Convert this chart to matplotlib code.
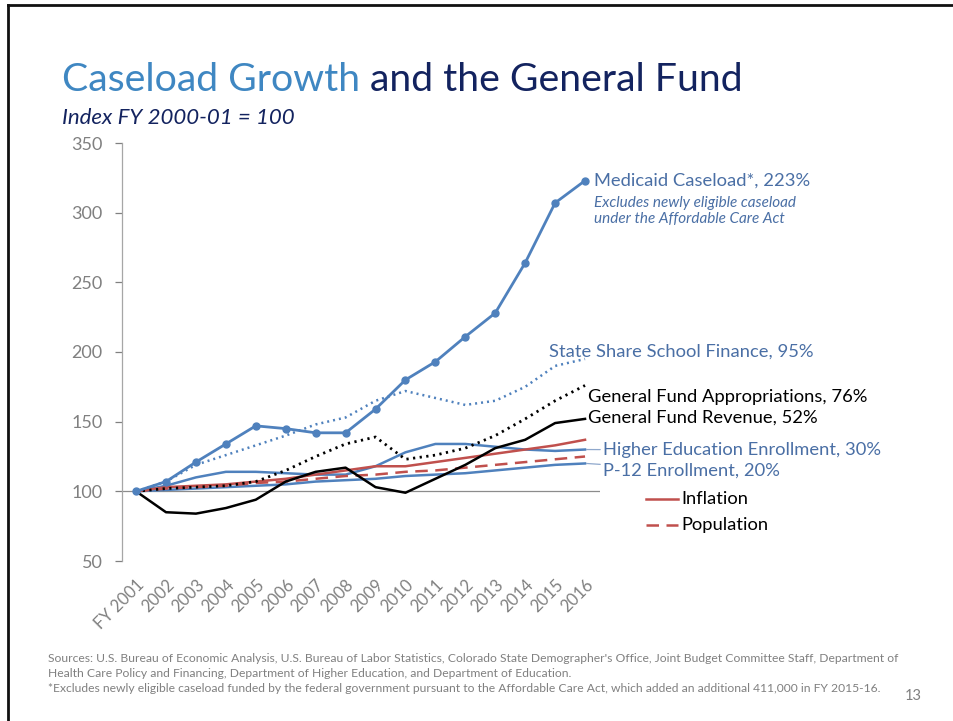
import matplotlib
matplotlib.use("Agg")
import matplotlib.pyplot as plt
from matplotlib.lines import Line2D

plt.rcParams["font.family"] = ["Lato", "DejaVu Sans"]

years = ["FY 2001", "2002", "2003", "2004", "2005", "2006", "2007", "2008",
         "2009", "2010", "2011", "2012", "2013", "2014", "2015", "2016"]

medicaid = [100, 107, 121, 134, 147, 145, 142, 142, 159, 180, 193, 211, 228, 264, 307, 323]
school_finance = [100, 107, 119, 126, 133, 140, 148, 153, 165, 172, 167, 162, 165, 175, 190, 195]
gf_approp = [100, 102, 103, 104, 107, 115, 125, 134, 139, 123, 126, 131, 140, 152, 165, 176]
gf_revenue = [100, 85, 84, 88, 94, 107, 114, 117, 103, 99, 109, 119, 131, 137, 149, 152]
higher_ed = [100, 104, 110, 114, 114, 113, 112, 112, 118, 128, 134, 134, 132, 130, 129, 130]
p12 = [100, 101, 102, 103, 104, 105, 107, 108, 109, 111, 112, 113, 115, 117, 119, 120]
inflation = [100, 103, 104, 105, 107, 109, 112, 115, 118, 118, 121, 124, 127, 130, 133, 137]
population = [100, 102, 103, 104, 106, 107, 109, 111, 112, 114, 115, 117, 119, 121, 123, 125]

yticks = [50, 100, 150, 200, 250, 300, 350]

BLUE = "#4f81bd"
LABEL_BLUE = "#4a6fa5"
RED = "#c0504d"
GRAY = "#808080"
NAVY = "#13235f"
LBL = 13.2

W, H = 954, 721
fig = plt.figure(figsize=(W / 100, H / 100), dpi=100)


def fx(px):
    return px / W


def fy(py):
    return 1 - py / H


# slide border (top and left edges)
fig.add_artist(Line2D([fx(8), 1], [fy(5), fy(5)], color="#111111", lw=2))
fig.add_artist(Line2D([fx(8), fx(8)], [fy(5), 0], color="#111111", lw=2))

ax = fig.add_axes([fx(122), fy(561), fx(600) - fx(122), (561 - 143) / H])
x = list(range(len(years)))

ax.axhline(100, color="#8c8c8c", lw=0.9, zorder=1)
ax.plot(x, p12, color=BLUE, lw=1.8)
ax.plot(x, higher_ed, color=BLUE, lw=1.8)
ax.plot(x, population, color=RED, lw=1.8, dashes=(5, 3))
ax.plot(x, inflation, color=RED, lw=1.8)
ax.plot(x, gf_revenue, color="black", lw=1.8)
ax.plot(x, gf_approp, color="black", lw=2.0, dashes=(0.8, 1.6))
ax.plot(x, school_finance, color=BLUE, lw=1.8, dashes=(0.8, 1.6))
ax.plot(x, medicaid, color=BLUE, lw=2.0, marker="o", ms=5)

ax.set_xlim(-0.47, 15.5)
ax.set_ylim(50, 350)
ax.set_yticks(yticks)
ax.set_xticks(x)
ax.set_xticklabels(years, rotation=45, ha="right", va="top",
                   rotation_mode="anchor", fontsize=12, color=GRAY)
ax.tick_params(axis="x", length=0, pad=11)
ax.tick_params(axis="y", colors=GRAY, labelsize=13, length=5, width=0.9,
               direction="out", pad=9)
for side in ["top", "right", "bottom"]:
    ax.spines[side].set_visible(False)
ax.spines["left"].set_color("#a6a6a6")
ax.spines["left"].set_linewidth(0.9)

# series labels
ax.text(15.3, medicaid[-1], "Medicaid Caseload*, 223%", color=LABEL_BLUE,
        fontsize=LBL, va="center", ha="left")
ax.text(15.3, medicaid[-1] - 11, "Excludes newly eligible caseload\nunder the Affordable Care Act",
        color=LABEL_BLUE, fontsize=11, style="italic", va="top", ha="left",
        linespacing=1.15)
ax.text(13.8, 200, "State Share School Finance, 95%", color=LABEL_BLUE,
        fontsize=LBL, va="center", ha="left")
ax.text(15.1, 168, "General Fund Appropriations, 76%", color="black",
        fontsize=LBL, va="center", ha="left")
ax.text(15.1, 153, "General Fund Revenue, 52%", color="black",
        fontsize=LBL, va="center", ha="left")
ax.annotate("Higher Education Enrollment, 30%", xy=(15.05, higher_ed[-1]),
            xytext=(15.6, 129.5), color=LABEL_BLUE, fontsize=LBL, va="center",
            ha="left", annotation_clip=False,
            arrowprops=dict(arrowstyle="-", color="#8fa8cc", lw=0.9,
                            shrinkA=0, shrinkB=0))
ax.annotate("P-12 Enrollment, 20%", xy=(15.05, p12[-1]),
            xytext=(15.6, 115), color=LABEL_BLUE, fontsize=LBL, va="center",
            ha="left", annotation_clip=False,
            arrowprops=dict(arrowstyle="-", color="#8fa8cc", lw=0.9,
                            shrinkA=0, shrinkB=0))

# key for the red lines
fig.add_artist(Line2D([fx(646), fx(678)], [fy(499), fy(499)], color=RED, lw=1.8))
fig.add_artist(Line2D([fx(646), fx(678)], [fy(525), fy(525)], color=RED, lw=1.8,
                      dashes=(5, 3)))
fig.text(fx(681), fy(499), "Inflation", color="black", fontsize=LBL, va="center", ha="left")
fig.text(fx(681), fy(525), "Population", color="black", fontsize=LBL, va="center", ha="left")

# title in two colours
renderer = fig.canvas.get_renderer()
t1 = fig.text(fx(62), fy(91), "Caseload Growth", color="#3f87c2", fontsize=28.3,
              va="baseline", ha="left")
bb = t1.get_window_extent(renderer)
fig.text((bb.x1 + 10) / W, fy(91), "and the General Fund", color=NAVY,
         fontsize=28.3, va="baseline", ha="left")
fig.text(fx(62), fy(124), "Index FY 2000-01 = 100", color=NAVY, fontsize=16,
         style="italic", va="baseline", ha="left")

foot = ("Sources: U.S. Bureau of Economic Analysis, U.S. Bureau of Labor Statistics, "
        "Colorado State Demographer's Office, Joint Budget Committee Staff, Department of\n"
        "Health Care Policy and Financing, Department of Higher Education, and Department of Education.\n"
        "*Excludes newly eligible caseload funded by the federal government pursuant to the "
        "Affordable Care Act, which added an additional 411,000 in FY 2015-16.")
fig.text(fx(48), fy(653), foot, color=GRAY, fontsize=8.7, va="top", ha="left",
         linespacing=1.42)
fig.text(fx(905), fy(700), "13", color=GRAY, fontsize=10.5, va="baseline", ha="left")

fig.savefig("out.png", dpi=100)
